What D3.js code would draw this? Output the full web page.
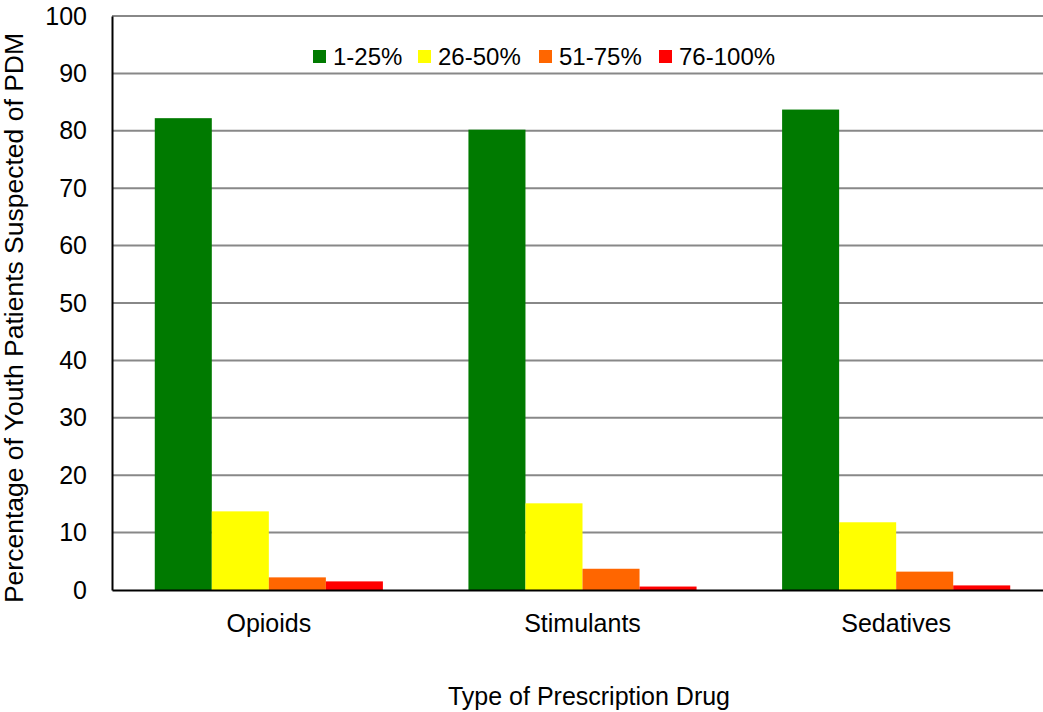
<!DOCTYPE html>
<html>
<head>
<meta charset="utf-8">
<script src="https://cdn.jsdelivr.net/npm/d3@7"></script>
<style>
  body { margin: 0; background: #fff; }
  svg { display: block; font-family: "Liberation Sans", Arial, sans-serif; }
</style>
</head>
<body>
<div id="chart"></div>
<script>
// data
var categories = ['Opioids', 'Stimulants', 'Sedatives'];
var seriesNames = ['1-25%', '26-50%', '51-75%', '76-100%'];
var seriesColors = ['#007a00', '#ffff00', '#ff6600', '#ff0000'];
var values = [
  [82.2, 13.7, 2.2, 1.5],   // Opioids
  [80.2, 15.1, 3.7, 0.6],   // Stimulants
  [83.7, 11.8, 3.2, 0.8]    // Sedatives
];
var yTicks = [0, 10, 20, 30, 40, 50, 60, 70, 80, 90, 100];

var w = 1043, h = 712;
var margin = {left: 112, top: 16, right: -10, bottom: 122};

var svg = d3.select('#chart').append('svg')
  .attr('width', w)
  .attr('height', h);

var x0 = d3.scaleBand()
  .domain(categories)
  .range([margin.left, w - margin.right])
  .paddingInner(0)
  .paddingOuter(0);

var x1 = d3.scaleBand()
  .domain(seriesNames)
  .range([0, x0.bandwidth()])
  .paddingOuter(0.75)
  .paddingInner(0);

var y = d3.scaleLinear()
  .domain([0, 100])
  .range([h - margin.bottom, margin.top]);

//gridlines
svg.append('g')
  .selectAll('line')
  .data(yTicks.filter(function(d) { return d > 0; }))
  .enter()
  .append('line')
  .attr('x1', margin.left)
  .attr('x2', w)
  .attr('y1', function(d) { return y(d); })
  .attr('y2', function(d) { return y(d); })
  .attr('stroke', '#888')
  .attr('stroke-width', 2);

//bars
var groups = svg.append('g')
  .selectAll('g')
  .data(values)
  .enter()
  .append('g')
  .attr('transform', function(d, i) { return 'translate(' + x0(categories[i]) + ',0)'; });

groups.selectAll('rect')
  .data(function(d) { return d; })
  .enter()
  .append('rect')
  .attr('x', function(d, i) { return x1(seriesNames[i]); })
  .attr('width', x1.bandwidth())
  .attr('y', function(d) { return y(d); })
  .attr('height', function(d) { return y(0) - y(d); })
  .attr('fill', function(d, i) { return seriesColors[i]; });

//y axis
var yAxis = svg.append('g')
  .attr('transform', 'translate(' + margin.left + ',0)')
  .call(d3.axisLeft(y).tickValues(yTicks).tickSize(0).tickPadding(25));
yAxis.select('.domain').attr('stroke', '#000').attr('stroke-width', 2);
yAxis.selectAll('text')
  .attr('fill', '#000')
  .style('font-size', '25px')
  .style('font-family', '"Liberation Sans", Arial, sans-serif');

//x axis
var xAxis = svg.append('g')
  .attr('transform', 'translate(0,' + y(0) + ')')
  .call(d3.axisBottom(x0).tickSize(0).tickPadding(24));
xAxis.select('.domain').attr('stroke', '#000').attr('stroke-width', 2);
xAxis.selectAll('text')
  .attr('fill', '#000')
  .style('font-size', '25px')
  .style('font-family', '"Liberation Sans", Arial, sans-serif');

//axis titles
svg.append('text')
  .attr('x', 589)
  .attr('y', 705)
  .attr('text-anchor', 'middle')
  .style('font-size', '25px')
  .text('Type of Prescription Drug');

svg.append('text')
  .attr('transform', 'translate(23,' + 318 + ') rotate(-90)')
  .attr('text-anchor', 'middle')
  .style('font-size', '26.5px')
  .text('Percentage of Youth Patients Suspected of PDM');

//legend
var legendX = [313, 418, 539, 659];
var legend = svg.append('g')
  .selectAll('g')
  .data(seriesNames)
  .enter()
  .append('g')
  .attr('transform', function(d, i) { return 'translate(' + legendX[i] + ',50)'; });

legend.append('rect')
  .attr('width', 13)
  .attr('height', 13)
  .attr('fill', function(d, i) { return seriesColors[i]; });

legend.append('text')
  .attr('x', 20)
  .attr('y', 15)
  .style('font-size', '24px')
  .text(function(d) { return d; });
</script>
</body>
</html>
